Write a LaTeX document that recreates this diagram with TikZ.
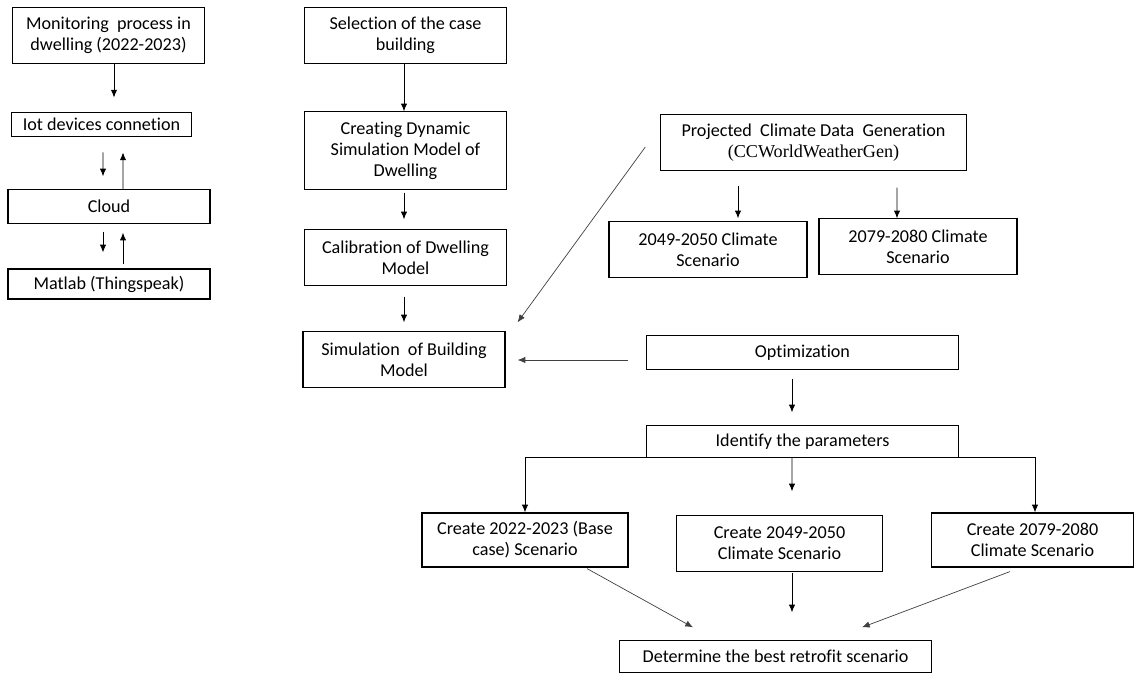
\documentclass[tikz,border=0pt]{standalone}
\usepackage{fontspec}
\setmainfont{Carlito}[Ligatures=NoCommon]
\newfontfamily\timesfont{Liberation Serif}
\usetikzlibrary{arrows.meta,calc}

\begin{document}
\begin{tikzpicture}[x=0.025cm,y=-0.025cm,>={Latex[length=5.5pt,width=4.5pt]},
 font=\fontsize{12.9}{15}\selectfont,
 box/.style={draw,line width=0.8pt,align=center,inner sep=1pt},
 arr/.style={->,line width=0.6pt},
 slant/.style={->,line width=0.5pt,black!75}]
\useasboundingbox (0,0) rectangle (1134,673);
% monitoring chain
\node[box,minimum width=4.78cm,minimum height=1.38cm] (mon) at (108.5,35.5) {Monitoring\ \ process in\\dwelling (2022-2023)};
\node[box,minimum width=4.48cm,minimum height=0.62cm] (iot) at (101.5,124.5) {Iot devices connetion};
\node[box,minimum width=5.05cm,minimum height=0.83cm] (cloud) at (109,206.5) {Cloud};
\node[box,minimum width=5.05cm,minimum height=0.75cm] (matlab) at (109,284) {Matlab (Thingspeak)};
% building model chain
\node[box,minimum width=5.03cm,minimum height=1.38cm] (sel) at (405.5,35.5) {Selection of the case\\building};
\node[box,minimum width=5.03cm,minimum height=1.93cm] (dyn) at (405.5,150.5) {Creating Dynamic\\Simulation Model of\\Dwelling};
\node[box,minimum width=5.03cm,minimum height=1.38cm] (calib) at (405.5,257.5) {Calibration of Dwelling\\Model};
\node[box,minimum width=5.05cm,minimum height=1.38cm] (sim) at (404,359.5) {Simulation\ \ of Building\\Model};
% climate data
\node[box,minimum width=7.63cm,minimum height=1.38cm] (proj) at (813.5,142.5) {Projected\ \ Climate Data\ \ Generation\\{\timesfont (CCWorldWeatherGen)}};
\node[box,minimum width=4.95cm,minimum height=1.38cm] (clim49) at (708,249.5) {2049-2050 Climate\\Scenario};
\node[box,minimum width=4.95cm,minimum height=1.38cm] (clim79) at (918,246.5) {2079-2080 Climate\\Scenario};
% optimization
\node[box,minimum width=7.78cm,minimum height=0.83cm] (opt) at (802.5,352.5) {Optimization};
\node[box,minimum width=7.78cm,minimum height=0.78cm] (ident) at (802.5,441.5) {Identify the parameters};
\node[box,minimum width=5.15cm,minimum height=1.35cm] (base) at (525,540) {Create 2022-2023 (Base\\case) Scenario};
\node[box,minimum width=5.13cm,minimum height=1.38cm] (sc49) at (779.5,543.5) {Create 2049-2050\\Climate Scenario};
\node[box,minimum width=5.03cm,minimum height=1.35cm] (sc79) at (1032.5,540) {Create 2079-2080\\Climate Scenario};
\node[box,minimum width=7.78cm,minimum height=0.78cm] (best) at (775.5,656.5) {Determine the best retrofit scenario};

\draw[arr] ($(mon.south)+(5.5,0)$) -- ($(iot.north)+(12.5,-14)$);
\draw[arr] ($(iot.south)+(1.5,15)$) -- ($(cloud.north)+(-6,-13)$);
\draw[arr] ($(cloud.north)+(14,0)$) -- ($(iot.south)+(21.5,15)$);
\draw[arr] ($(cloud.south)+(-6,8)$) -- ($(matlab.north)+(-6,-16)$);
\draw[arr] ($(matlab.north)+(14,-4)$) -- ($(cloud.south)+(14,9)$);

\draw[arr] ($(sel.south)+(-1.5,0)$) -- ($(dyn.north)+(-1.5,0)$);
\draw[arr] ($(dyn.south)+(-1.5,3)$) -- ($(calib.north)+(-1.5,-10)$);
\draw[arr] ($(calib.south)+(-1.5,11)$) -- ($(sim.north)+(0,-9)$);
\draw[slant] ($(proj.west)+(-15,4.5)$) -- ($(sim.north east)+(12,-9)$);
\draw[slant] ($(opt.west)+(-18,7.5)$) -- ($(sim.east)+(12,0.5)$);

\draw[arr] ($(proj.south)+(-75.5,15)$) -- ($(clim49.north)+(30,-3)$);
\draw[arr] ($(proj.south)+(83.5,17)$) -- ($(clim79.north)+(-21,0)$);

\draw[arr] ($(opt.south)+(-10.5,9)$) -- ($(ident.north)+(-10.5,-13)$);
\draw[arr] (ident.south west) -| (base.north);
\draw[arr] ($(ident.south)+(-10.5,0)$) -- ($(sc49.north)+(12.5,-24)$);
\draw[arr] (ident.south east) -| ($(sc79.north)+(2.5,0)$);

\draw[slant] ($(base.south)+(62,1)$) -- ($(best.north)+(-82.5,-13)$);
\draw[arr] ($(sc49.south)+(12.5,1)$) -- ($(best.north)+(16.5,-28)$);
\draw[slant] ($(sc79.south)+(-22.5,4)$) -- ($(best.north)+(86.5,-13)$);
\end{tikzpicture}
\end{document}
